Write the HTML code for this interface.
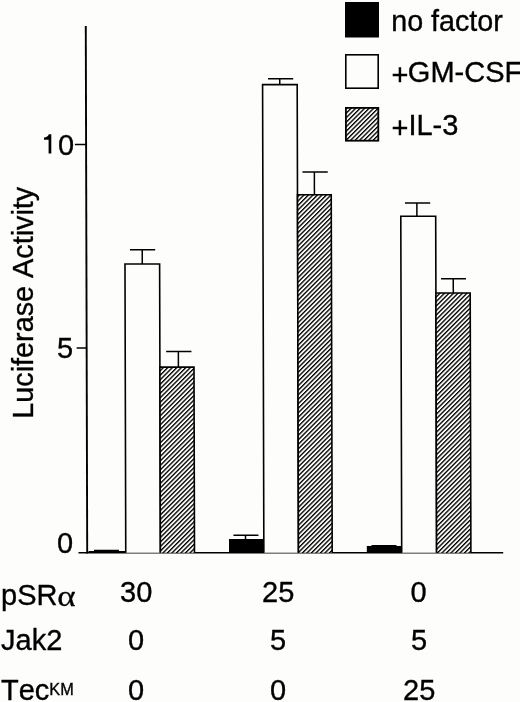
<!DOCTYPE html>
<html>
<head>
<meta charset="utf-8">
<style>
html,body{margin:0;padding:0;background:#fdfdfc;}
body{width:520px;height:702px;overflow:hidden;}
svg{display:block;will-change:transform;}
text{font-family:"Liberation Sans", sans-serif;fill:#000;font-kerning:none;stroke:#000;stroke-width:0.35px;}
</style>
</head>
<body>
<svg width="520" height="702" viewBox="0 0 520 702">
<defs>
<pattern id="h" patternUnits="userSpaceOnUse" width="3.182" height="10" patternTransform="translate(3.925,0) rotate(45)">
<rect x="0" y="0" width="3.182" height="10" fill="#fdfdfc"/>
<rect x="0" y="0" width="1.35" height="10" fill="#000"/>
</pattern>
</defs>
<g stroke="#000" fill="none" stroke-width="1.6" transform="translate(0,552) skewX(0.155) translate(0,-552)">
<!-- y axis -->
<line x1="87.2" y1="26" x2="87.2" y2="553.5" stroke-width="1.9"/>
<!-- ticks -->
<line x1="76" y1="144.6" x2="87" y2="144.6" stroke-width="1.5"/>
<line x1="77.2" y1="348" x2="87" y2="348" stroke-width="1.5"/>
<!-- baseline -->
<line x1="78.5" y1="552.75" x2="503.2" y2="552.75" stroke-width="1.7"/>

<!-- group 1 -->
<rect x="88.5" y="551.1" width="36.5" height="1.65" fill="#000" stroke="none"/>
<rect x="94" y="549.7" width="25" height="2" fill="#000" stroke="none"/>
<path d="M125.76 552.75 V264.0 H160.4 V552.75" fill="#fdfdfc"/>
<line x1="143.05" y1="264" x2="143.05" y2="249.75" stroke-width="1.5"/><line x1="130.8" y1="249.75" x2="156.0" y2="249.75" stroke-width="1.5"/>
<path d="M160.4 552.75 V367.1 H194.5 V552.75" fill="url(#h)"/>
<line x1="178.9" y1="367" x2="178.9" y2="351.5" stroke-width="1.5"/><line x1="166.7" y1="351.5" x2="192.0" y2="351.5" stroke-width="1.5"/>
<!-- group 2 -->
<rect x="229" y="539" width="34.75" height="13.75" fill="#000" stroke="none"/>
<line x1="245.55" y1="539" x2="245.55" y2="535.2" stroke-width="1.5"/><line x1="233.5" y1="535.2" x2="258.5" y2="535.2" stroke-width="1.5"/>
<path d="M263.85 552.75 V84.65 H298.45 V552.75" fill="#fdfdfc"/>
<line x1="281.0" y1="84.6" x2="281.0" y2="78.75" stroke-width="1.5"/><line x1="269.3" y1="78.75" x2="294.5" y2="78.75" stroke-width="1.5"/>
<path d="M298.45 552.75 V194.75 H332.2 V552.75" fill="url(#h)"/>
<line x1="315.4" y1="194.7" x2="315.4" y2="172" stroke-width="1.5"/><line x1="303.5" y1="172" x2="328.8" y2="172" stroke-width="1.5"/>
<!-- group 3 -->
<rect x="366.8" y="546" width="34.9" height="6.75" fill="#000" stroke="none"/>
<rect x="371.5" y="545.1" width="25" height="2" fill="#000" stroke="none"/>
<path d="M401.7 552.75 V216.25 H436.6 V552.75" fill="#fdfdfc"/>
<line x1="417.8" y1="216.2" x2="417.8" y2="203" stroke-width="1.5"/><line x1="405.95" y1="203" x2="431.15" y2="203" stroke-width="1.5"/>
<path d="M436.6 552.75 V293 H470.9 V552.75" fill="url(#h)"/>
<line x1="454.0" y1="293" x2="454.0" y2="278.75" stroke-width="1.5"/><line x1="441.75" y1="278.75" x2="466.75" y2="278.75" stroke-width="1.5"/>
</g>

<!-- legend -->
<rect x="345" y="2" width="34" height="35.5" fill="#000"/>
<rect x="345.8" y="54.8" width="32.4" height="33.4" fill="#fdfdfc" stroke="#000" stroke-width="1.6"/>
<rect x="345.9" y="107.9" width="32.4" height="32.8" fill="url(#h)" stroke="#000" stroke-width="1.8"/>

<g font-size="29">
<text x="391.2" y="30.5" font-size="28.7">no factor</text>
<text x="391.5" y="82.3"><tspan dy="3">+</tspan><tspan dy="-3" dx="-0.6">GM-CSF</tspan></text>
<text x="391.5" y="135"><tspan dy="3">+</tspan><tspan dy="-3">IL-3</tspan></text>

<path d="M51.3 134.3 V153.6 H48.6 V139.8 H44 V137.4 C46.5 137.4 48.3 136.2 48.8 134.3 Z" fill="#000"/>
<text x="58.1" y="154.5">0</text>
<text x="57" y="357.5">5</text>
<text x="57" y="553">0</text>

<text x="1" y="605.3">pSR</text>
<text transform="translate(57.3,605.8) scale(1,0.87)" font-family="Liberation Serif" font-size="35" style="font-family:'Liberation Serif', serif">α</text>
<text x="120" y="602.3">30</text>
<text x="262" y="602.3">25</text>
<text x="410.5" y="602.3">0</text>

<text x="1" y="650">Jak2</text>
<text x="128" y="650.3">0</text>
<text x="270" y="650">5</text>
<text x="411" y="650">5</text>

<text x="1" y="699.7">Tec<tspan font-size="16.3" dy="-4.9">KM</tspan></text>
<text x="128" y="700">0</text>
<text x="270" y="700">0</text>
<text x="403" y="699.7">25</text>

<text transform="translate(32.5,418.8) rotate(-90)" x="0" y="0" font-size="28.8">Luciferase Activity</text>
</g>
</svg>
</body>
</html>
